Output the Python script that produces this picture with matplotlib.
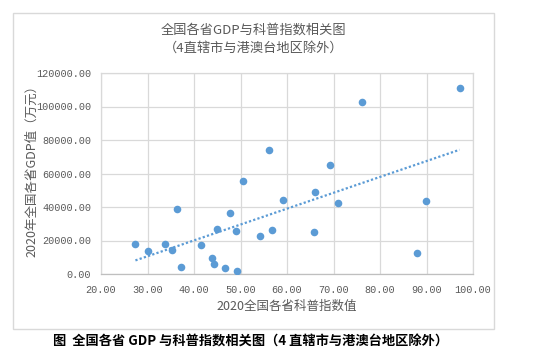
import numpy as np
import matplotlib
matplotlib.use('Agg')
from matplotlib import pyplot as plt
from matplotlib.patches import Rectangle

plt.rcParams['font.family'] = ['Noto Sans CJK SC', 'DejaVu Sans']

# 2020 science popularization index per province
kepu_index = [27.4, 30.1, 33.8, 35.2, 36.3, 37.1, 41.4, 43.9, 44.4, 44.9,
              46.7, 47.7, 49.0, 49.2, 50.5, 54.3, 56.1, 56.7, 59.1, 65.7,
              66.0, 69.2, 71.0, 76.1, 88.0, 89.9, 97.1]
# 2020 GDP per province (10k yuan)
gdp = [18200, 14000, 18000, 14200, 39000, 4200, 17600, 9400, 5800, 26600,
       3400, 36600, 25400, 2000, 55400, 22600, 73800, 26000, 44400, 25000,
       49000, 65200, 42200, 102800, 12600, 43800, 110800]

xticks = [20, 30, 40, 50, 60, 70, 80, 90, 100]
yticks = [0, 20000, 40000, 60000, 80000, 100000, 120000]

blue = '#5B9BD5'
gray = '#595959'
grid_c = '#D9D9D9'

W, H = 541, 362
fig = plt.figure(figsize=(W/100, H/100), dpi=100)

# chart frame
fig.patches.append(Rectangle((13/W, 1-329/H), 481/W, 316/H, transform=fig.transFigure,
                             fill=False, edgecolor='#D9D9D9', linewidth=1))

ax = fig.add_axes([101/W, 1-274/H, 372/W, 201/H])
x = np.array(kepu_index)
y = np.array(gdp)
ax.scatter(x, y, s=30, color=blue, zorder=3, linewidths=0)

# linear trend line
k, b = np.polyfit(x, y, 1)
xs = np.array([x.min(), x.max()])
ax.plot(xs, k*xs + b, linestyle=(0, (1, 1)), color=blue, linewidth=1.6, zorder=2)

ax.set_xlim(20, 100)
ax.set_ylim(0, 120000)
ax.set_xticks(xticks)
ax.set_yticks(yticks)
ax.set_xticklabels(['%.2f' % t for t in xticks])
ax.set_yticklabels(['%.2f' % t for t in yticks])
ax.tick_params(length=0, labelcolor=gray)
ax.tick_params(axis='y', pad=7)
ax.tick_params(axis='x', pad=8)
for lab in ax.get_xticklabels() + ax.get_yticklabels():
    lab.set_fontfamily('Liberation Mono')
    lab.set_fontsize(7.3)
ax.grid(True, color=grid_c, linewidth=0.9)
ax.set_axisbelow(True)
for s in ax.spines.values():
    s.set_color(grid_c)
    s.set_linewidth(0.9)
ax.spines['bottom'].set_color('#BFBFBF')

fig.text(253.5/W, 1-30/H, '全国各省GDP与科普指数相关图', ha='center', va='center',
         fontsize=9.5, color=gray)
fig.text(253.5/W, 1-48/H, '（4直辖市与港澳台地区除外）', ha='center', va='center',
         fontsize=9.5, color=gray)
fig.text(287/W, 1-306/H, '2020全国各省科普指数值', ha='center', va='center',
         fontsize=9, color=gray)
fig.text(32/W, 1-168/H, '2020年全国各省GDP值（万元）', ha='center', va='center',
         fontsize=9, color=gray, rotation=90)
fig.text(251/W, 1-342/H, '图  全国各省 GDP 与科普指数相关图（4 直辖市与港澳台地区除外）',
         ha='center', va='center', fontsize=9.5, color='black', fontweight='bold')

fig.savefig('out.png', dpi=100)
